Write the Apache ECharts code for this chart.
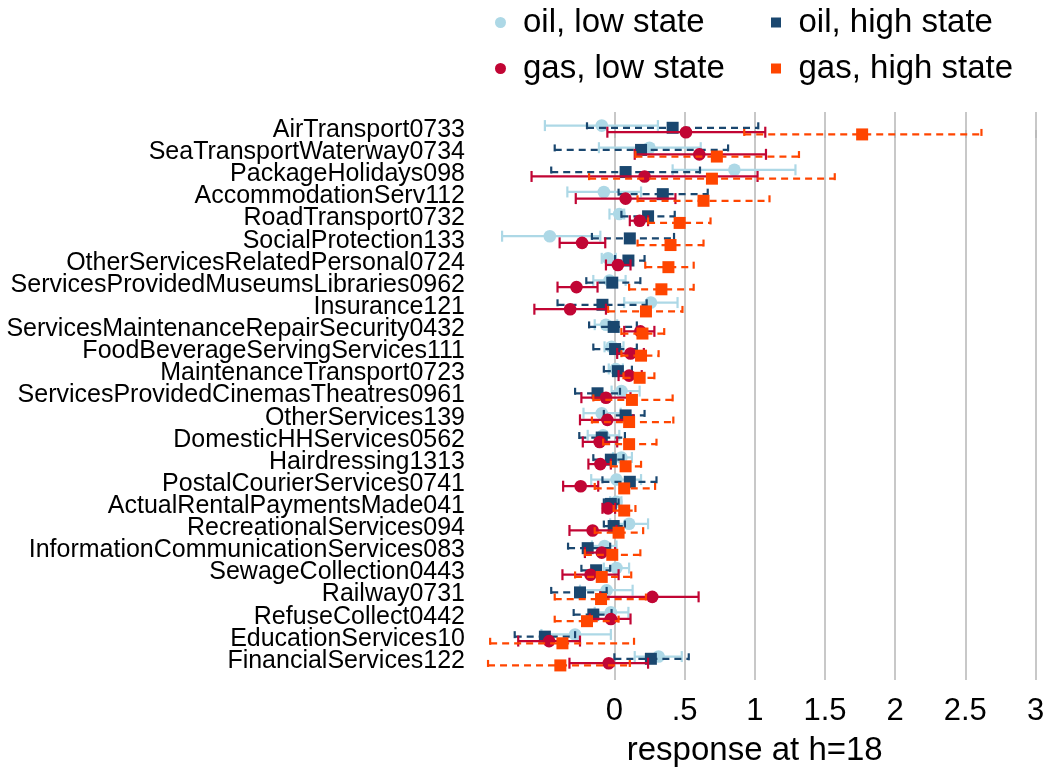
<!DOCTYPE html>
<html><head><meta charset="utf-8">
<script src="https://cdn.jsdelivr.net/npm/echarts@6/dist/echarts.min.js"></script>
<style>html,body{margin:0;padding:0;background:#fff}#c{width:1049px;height:775px}</style>
</head><body><div id="c"></div>
<script>
const categories = [
  'AirTransport0733','SeaTransportWaterway0734','PackageHolidays098','AccommodationServ112',
  'RoadTransport0732','SocialProtection133','OtherServicesRelatedPersonal0724',
  'ServicesProvidedMuseumsLibraries0962','Insurance121','ServicesMaintenanceRepairSecurity0432',
  'FoodBeverageServingServices111','MaintenanceTransport0723','ServicesProvidedCinemasTheatres0961',
  'OtherServices139','DomesticHHServices0562','Hairdressing1313','PostalCourierServices0741',
  'ActualRentalPaymentsMade041','RecreationalServices094','InformationCommunicationServices083',
  'SewageCollection0443','Railway0731','RefuseCollect0442','EducationServices10','FinancialServices122'
];

const oilLowEst = [-0.09, 0.25, 0.855, -0.075, 0.035, -0.46, -0.045, -0.035, 0.26, -0.06, -0.02, 0.01, 0.05, -0.09, -0.08, 0.05, 0.015, 0.015, 0.105, -0.07, 0.015, -0.055, -0.025, -0.28, 0.315];
const oilLowLo  = [-0.495, -0.11, 0.415, -0.335, -0.035, -0.80, -0.09, -0.15, 0.07, -0.14, -0.07, -0.04, -0.02, -0.22, -0.19, -0.01, -0.165, -0.03, -0.03, -0.16, -0.075, -0.245, -0.14, -0.52, 0.145];
const oilLowHi  = [0.31, 0.615, 1.29, 0.19, 0.07, -0.10, 0.01, 0.08, 0.45, 0.02, 0.065, 0.06, 0.18, 0.045, 0.035, 0.125, 0.19, 0.05, 0.24, 0.015, 0.105, 0.13, 0.10, -0.025, 0.48];

const oilHighEst = [0.415, 0.19, 0.08, 0.345, 0.24, 0.11, 0.10, -0.015, -0.085, -0.005, 0.005, 0.025, -0.12, 0.08, -0.09, -0.025, 0.11, -0.025, -0.005, -0.19, -0.13, -0.245, -0.15, -0.495, 0.26];
const oilHighLo  = [-0.195, -0.425, -0.45, 0.03, 0.05, -0.16, 0.005, -0.20, -0.405, -0.18, -0.15, -0.075, -0.28, -0.075, -0.25, -0.15, -0.085, -0.075, -0.075, -0.33, -0.235, -0.45, -0.29, -0.71, 0.0];
const oilHighHi  = [1.025, 0.81, 0.61, 0.665, 0.43, 0.425, 0.215, 0.185, 0.23, 0.16, 0.16, 0.125, 0.04, 0.215, 0.075, 0.065, 0.30, 0.03, 0.075, -0.03, -0.03, -0.055, -0.02, -0.28, 0.53];

const gasLowEst = [0.51, 0.605, 0.215, 0.08, 0.18, -0.23, 0.025, -0.27, -0.315, 0.185, 0.115, 0.105, -0.06, -0.05, -0.105, -0.10, -0.24, -0.045, -0.155, -0.09, -0.17, 0.27, -0.025, -0.465, -0.04];
const gasLowLo  = [-0.05, 0.145, -0.59, -0.275, 0.11, -0.39, -0.06, -0.405, -0.57, 0.07, 0.02, 0.03, -0.235, -0.245, -0.225, -0.185, -0.365, -0.085, -0.32, -0.21, -0.37, -0.10, -0.175, -0.685, -0.32];
const gasLowHi  = [1.075, 1.08, 1.02, 0.435, 0.24, -0.065, 0.115, -0.12, -0.06, 0.285, 0.21, 0.195, 0.115, 0.135, 0.02, -0.025, -0.115, 0.005, 0.015, 0.005, 0.03, 0.60, 0.115, -0.245, 0.24];

const gasHighEst = [1.765, 0.73, 0.695, 0.635, 0.465, 0.40, 0.385, 0.335, 0.225, 0.20, 0.19, 0.18, 0.125, 0.105, 0.105, 0.08, 0.07, 0.07, 0.03, -0.015, -0.09, -0.095, -0.195, -0.37, -0.385];
const gasHighLo  = [0.925, 0.15, -0.18, 0.165, 0.24, 0.165, 0.22, 0.105, -0.045, 0.05, 0.05, 0.065, -0.15, -0.16, -0.08, -0.025, -0.14, -0.005, -0.14, -0.21, -0.28, -0.425, -0.425, -0.885, -0.90];
const gasHighHi  = [2.615, 1.315, 1.57, 1.105, 0.685, 0.635, 0.565, 0.565, 0.485, 0.355, 0.315, 0.285, 0.415, 0.42, 0.30, 0.19, 0.29, 0.15, 0.205, 0.185, 0.12, 0.225, 0.03, 0.14, 0.11];

const xTickValues = [0, 0.5, 1, 1.5, 2, 2.5, 3];
const xTickLabels = ['0', '.5', '1', '1.5', '2', '2.5', '3'];
const xTitle = 'response at h=18';

const FONT = 'Liberation Sans, Arial, sans-serif';

const defs = [
  {name: 'oil, low state',  est: oilLowEst,  lo: oilLowLo,  hi: oilLowHi,  color: '#add8e6', shape: 'circle', dashed: false, offset: -0.2},
  {name: 'oil, high state', est: oilHighEst, lo: oilHighLo, hi: oilHighHi, color: '#1a476f', shape: 'square', dashed: true,  offset: -0.1},
  {name: 'gas, low state',  est: gasLowEst,  lo: gasLowLo,  hi: gasLowHi,  color: '#c10534', shape: 'circle', dashed: false, offset: 0.1},
  {name: 'gas, high state', est: gasHighEst, lo: gasHighLo, hi: gasHighHi, color: '#ff4500', shape: 'square', dashed: true,  offset: 0.2}
];

function makeRender(def) {
  return function (params, api) {
    const idx = api.value(0);
    const yv = idx + def.offset;
    const pE = api.coord([api.value(1), yv]);
    const pL = api.coord([api.value(2), yv]);
    const pH = api.coord([api.value(3), yv]);
    const cap = 5.5;
    const ls = {stroke: def.color, lineWidth: 2.2, fill: null};
    if (def.dashed) ls.lineDash = [7, 5];
    const marker = def.shape === 'circle'
      ? {type: 'circle', shape: {cx: pE[0], cy: pE[1], r: 6.3}, style: {fill: def.color}}
      : {type: 'rect', shape: {x: pE[0] - 6, y: pE[1] - 6, width: 12, height: 12}, style: {fill: def.color}};
    return {
      type: 'group',
      children: [
        {type: 'line', shape: {x1: pL[0], y1: pL[1], x2: pH[0], y2: pH[1]}, style: ls},
        {type: 'line', shape: {x1: pL[0], y1: pL[1] - cap, x2: pL[0], y2: pL[1] + cap}, style: ls},
        {type: 'line', shape: {x1: pH[0], y1: pH[1] - cap, x2: pH[0], y2: pH[1] + cap}, style: ls},
        marker
      ]
    };
  };
}

const series = defs.map(def => ({
  type: 'custom',
  name: def.name,
  xAxisIndex: 0, yAxisIndex: 0,
  itemStyle: {color: def.color},
  renderItem: makeRender(def),
  encode: {x: [1, 2, 3], y: 0},
  data: categories.map((c, i) => [i, def.est[i], def.lo[i], def.hi[i]])
}));

const legendBase = {
  orient: 'vertical', top: 6, padding: 0, itemGap: 13, itemWidth: 35, itemHeight: 11,
  selectedMode: false,
  textStyle: {fontSize: 33, color: '#000', fontFamily: FONT}
};

const squareIcon = 'path://M0,0L10,0L10,10L0,10Z';

const option = {
  backgroundColor: '#fff',
  animation: false,
  textStyle: {fontFamily: FONT},
  grid: [
    {left: 474, right: 13.5, top: 112, bottom: 95, containLabel: false},
    {left: 474, right: 13.5, top: 119, bottom: 103, containLabel: false}
  ],
  legend: [
    Object.assign({}, legendBase, {left: 495, data: [
      {name: 'oil, low state', icon: 'circle'}, {name: 'gas, low state', icon: 'circle'}]}),
    Object.assign({}, legendBase, {left: 771, itemHeight: 10, data: [
      {name: 'oil, high state', icon: squareIcon}, {name: 'gas, high state', icon: squareIcon}]})
  ],
  xAxis: [{
    type: 'value', gridIndex: 0, min: -1, max: 3, interval: 0.5,
    axisLine: {show: false},
    axisTick: {show: true, customValues: xTickValues, length: 8, lineStyle: {color: '#bbbbbb', width: 2}},
    axisLabel: {customValues: xTickValues, fontSize: 31, color: '#000', margin: 16, fontFamily: FONT,
      formatter: v => xTickLabels[xTickValues.indexOf(v)]},
    splitLine: {show: true, lineStyle: {color: '#c8c8c8', width: 2}},
    name: xTitle, nameLocation: 'middle', nameGap: 54,
    nameTextStyle: {fontSize: 33, color: '#000', fontFamily: FONT}
  }, {
    type: 'value', gridIndex: 1, min: 0, max: 1, show: false
  }],
  yAxis: [{
    type: 'value', gridIndex: 0, inverse: true, min: -0.8136, max: 24.859,
    axisLine: {show: false}, axisTick: {show: false}, splitLine: {show: false},
    axisLabel: {show: false}
  }, {
    type: 'category', gridIndex: 1, inverse: true, data: categories, boundaryGap: true,
    axisLine: {show: false}, axisTick: {show: false}, splitLine: {show: false},
    axisLabel: {interval: 0, fontSize: 25, color: '#000', margin: 9, fontFamily: FONT}
  }],
  series: series
};

const chart = echarts.init(document.getElementById('c'), null, {renderer: 'canvas'});
chart.setOption(option);
</script>
</body></html>
